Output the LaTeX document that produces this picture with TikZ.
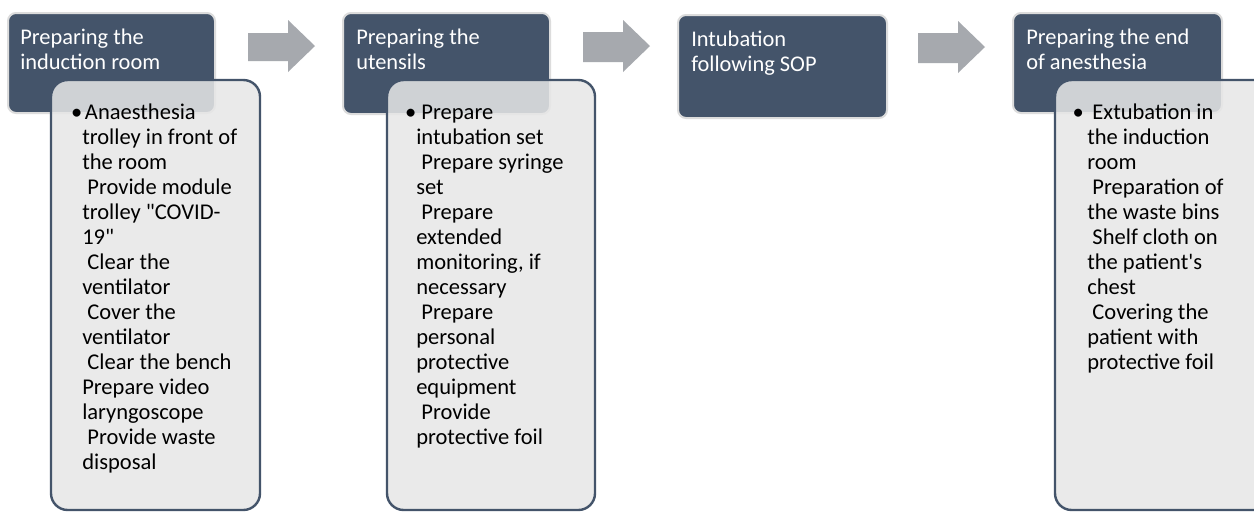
\documentclass[tikz,border=0pt]{standalone}
\usepackage{fontspec}
\newfontfamily\cf{Carlito}
\usetikzlibrary{fit}
\definecolor{dk}{HTML}{44546A}
\definecolor{lt}{HTML}{E7E7E7}
\definecolor{ar}{HTML}{A6A9AE}
\definecolor{glow}{HTML}{DCDCDC}
\newcommand{\ind}{\hspace*{.23em}}
\newcommand{\bul}{\llap{•}}
\tikzset{
  darkbox/.style={fill=dk, draw=glow, line width=1.5pt, rounded corners=6pt, inner sep=0pt},
  lightbox/.style={fill=lt, fill opacity=0.86, draw=dk, draw opacity=1, line width=1.8pt, rounded corners=12.5pt, inner sep=0pt},
  ttl/.style={anchor=north west, inner sep=0pt, align=left, text=white, font=\cf\fontsize{16.8}{18.75}\selectfont},
  body/.style={anchor=north west, inner sep=0pt, align=left, text=black, font=\cf\fontsize{16.9}{18.75}\selectfont},
  blockarrow/.style={fill=ar}
}
\begin{document}
\begin{tikzpicture}[x=0.75pt,y=-0.75pt]
\useasboundingbox (0,0) rectangle (1254,512);
\fill[white] (0,0) rectangle (1254,512);
% block arrows
\fill[blockarrow] (248,33) -- (288,33) -- (288,20) -- (315,46) -- (288,72) -- (288,61) -- (248,61) -- cycle;
\fill[blockarrow] (583,32) -- (623,32) -- (623,20) -- (650,46) -- (623,72) -- (623,62) -- (583,62) -- cycle;
\fill[blockarrow] (918,33) -- (958,33) -- (958,21) -- (985,47) -- (958,73) -- (958,63) -- (918,63) -- cycle;
% dark title boxes
\node[darkbox, fit={(8,13) (215,113)}] (d1) {};
\node[darkbox, fit={(343,13) (550,114)}] (d2) {};
\node[darkbox, fit={(678,15) (887,118)}] (d3) {};
\node[darkbox, fit={(1013,13) (1222,113)}] (d4) {};
% light detail boxes
\node[lightbox, fit={(51,80) (260,510)}] (l1) {};
\node[lightbox, fit={(387,80) (595,510)}] (l2) {};
\node[lightbox, fit={(1055,80) (1275,510)}] (l4) {};
% titles
\node[ttl] (t1) at (20,26.5) {\strut Preparing the\\induction room};
\node[ttl] (t2) at (356,26.5) {\strut Preparing the\\utensils};
\node[ttl] (t3) at (691,28.5) {\strut Intubation\\following SOP};
\node[ttl] (t4) at (1026,26.5) {\strut Preparing the end\\of anesthesia};
% bodies
\node[body] (b1) at (82,101.5) {\strut\bul\hspace*{.12em}Anaesthesia\\trolley in front of\\the room\\\ind Provide module\\trolley "COVID-\\19"\\\ind Clear the\\ventilator\\\ind Cover the\\ventilator\\\ind Clear the bench\\Prepare video\\laryngoscope\\\ind Provide waste\\disposal};
\node[body] (b2) at (416,101.5) {\strut\bul\ind Prepare\\intubation set\\\ind Prepare syringe\\set\\\ind Prepare\\extended\\monitoring, if\\necessary\\\ind Prepare\\personal\\protective\\equipment\\\ind Provide\\protective foil};
\node[body] (b4) at (1087,101.5) {\strut\llap{•\hspace*{.15em}}\ind Extubation in\\the induction\\room\\\ind Preparation of\\the waste bins\\\ind Shelf cloth on\\the patient's\\chest\\\ind Covering the\\patient with\\protective foil};
\end{tikzpicture}
\end{document}
